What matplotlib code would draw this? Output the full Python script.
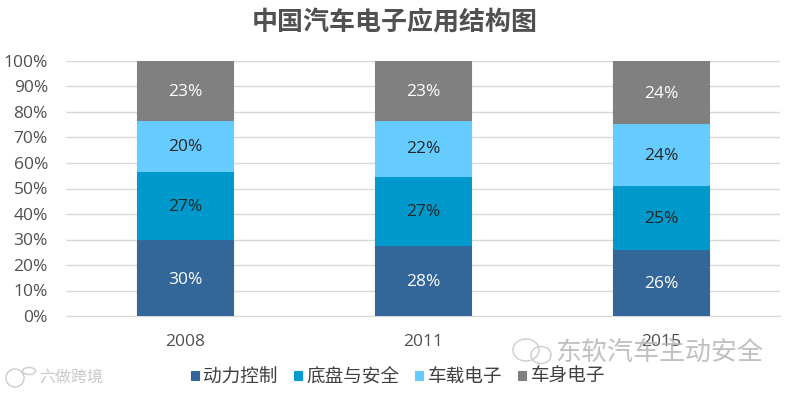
import matplotlib
matplotlib.use("Agg")
import matplotlib.pyplot as plt
from matplotlib.patches import Ellipse
from matplotlib.transforms import IdentityTransform
import numpy as np

plt.rcParams['font.family'] = ['Open Sans', 'Noto Sans CJK SC', 'DejaVu Sans']

years = ['2008', '2011', '2015']
names = ['动力控制', '底盘与安全', '车载电子', '车身电子']
powertrain = [30, 28, 26]
chassis = [27, 27, 25]
infotainment = [20, 22, 24]
body = [23, 23, 24]
series = [powertrain, chassis, infotainment, body]
colors = ['#336699', '#0099CC', '#66CCFF', '#808080']
label_colors = ['white', '#262626', '#262626', 'white']
W, H = 791, 393

fig = plt.figure(figsize=(W / 100, H / 100), dpi=100)
ax = fig.add_axes([66 / W, 1 - 316 / H, (780 - 66) / W, (316 - 61) / H])

# the chart is a 100% stack, the labels are rounded (2015 only adds up to 99)
totals = np.sum(series, axis=0)
x = np.arange(3)
bottom = np.zeros(3)
for vals, c, lc, name in zip(series, colors, label_colors, names):
    share = np.array(vals) / totals * 100
    ax.bar(x, share, 0.4, bottom=bottom, color=c, edgecolor=c, lw=0.8, label=name, zorder=3)
    for i, v in enumerate(vals):
        ax.text(x[i], bottom[i] + share[i] / 2 - 0.7, f'{v}%', ha='center', va='center',
                fontsize=12.5, color=lc, zorder=4)
    bottom += share

ax.set_xlim(-0.5, 2.5)
ax.set_ylim(0, 100)
ax.set_yticks(range(0, 101, 10))
ax.set_yticklabels([f'{v}%' for v in range(0, 101, 10)], fontsize=12.5, color='#505050')
ax.set_xticks(x)
ax.set_xticklabels(years, fontsize=12.5, color='#505050')
ax.tick_params(length=0)
ax.tick_params(axis='x', pad=13)
ax.tick_params(axis='y', pad=13)
ax.grid(axis='y', color='#D9D9D9', lw=1, zorder=0)
for s in ['top', 'left', 'right']:
    ax.spines[s].set_visible(False)
ax.spines['bottom'].set_color('#D9D9D9')

fig.text(395 / W, 1 - 23 / H, '中国汽车电子应用结构图', fontsize=18.7, fontweight='bold',
         color='#505050', ha='center', va='center')
fig.legend(*ax.get_legend_handles_labels(), loc='center', bbox_to_anchor=(398 / W, 1 - 377 / H),
           ncol=4, frameon=False, fontsize=13.4, handlelength=0.42, handleheight=0.42,
           columnspacing=0.85, handletextpad=0.25, labelcolor='#404040')

# watermarks
fig.text(763 / W, 1 - 354 / H, '东软汽车主动安全', fontsize=18.7, color='#B5B5B5', ha='right',
         va='center', alpha=0.85, zorder=0)
fig.text(39 / W, 1 - 378 / H, '六做跨境', fontsize=11.5, color='#C8C8C8', ha='left', va='center')
for cx, cy, w, h in [(526, 350, 26, 22), (541, 355, 20, 17), (15, 378, 18, 18), (29, 371, 13, 7)]:
    fig.add_artist(Ellipse((cx, H - cy), w, h, fill=False, ec='#CCCCCC', lw=1,
                           transform=IdentityTransform()))

fig.savefig('out.png', dpi=100)
